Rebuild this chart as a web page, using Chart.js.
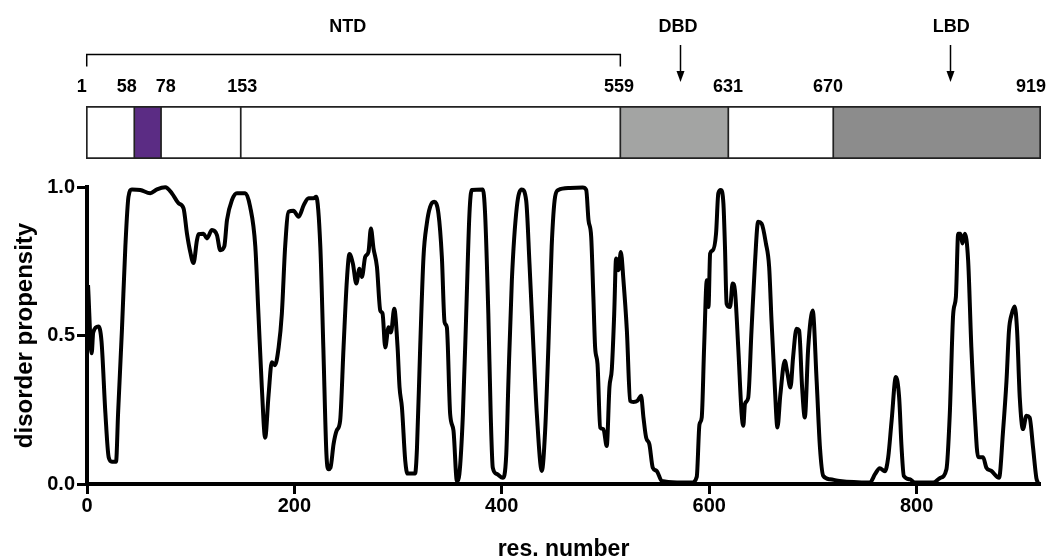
<!DOCTYPE html>
<html><head><meta charset="utf-8">
<script src="https://cdn.jsdelivr.net/npm/chart.js@4"></script>
<style>
html,body{margin:0;padding:0;background:#fff;overflow:hidden}
#wrap{position:relative;width:1058px;height:556px}
#plot,#domains{position:absolute;left:0;top:0}
</style></head><body>
<div id="wrap">
<canvas id="plot" width="1058" height="556"></canvas>
<canvas id="domains" width="1058" height="175"></canvas>
</div>
<script>
const FONT = "'Liberation Sans', Arial, Helvetica, sans-serif";

// disorder profile: residue number and propensity
const residues = [
 1,4.5,6,11,14,17.7,20.9,24,28,30,
 33.7,37,40,43.3,51.4,61,67.5,75.5,81.8,88.3,
 93.1,96.4,99.6,102.7,106,107.6,112.4,115.6,120.5,125.3,
 128.5,132.4,135,139.8,144.6,152.6,157.3,162.3,165.3,168.6,
 171.8,175.1,178.2,181.2,184.8,187.9,191.1,194.4,199.1,204.1,
 209,213.7,218.5,221,225,227.9,230.9,232.9,234.8,237.8,
 240.8,244.1,247.4,250.6,253.1,256.4,259.7,262.7,265.1,268.3,
 271.4,273.8,276.3,279.6,282.8,285,287.6,290.8,293.1,296.3,
 299.5,301.4,303.7,306.9,309.1,316.4,318.2,321.3,324.5,327.7,
 330.9,334.8,338.9,342.2,344.8,347,350.2,353.4,356.7,359.1,
 362.5,365.7,368.8,371,381.7,383.9,387,389.3,391.3,395.1,
 400.9,404.3,406.4,409.7,414.5,419.2,423.5,426.7,430.5,433.8,
 438.6,441.8,444.9,448.1,451.4,454.5,465.9,478,481.4,483.6,
 486.2,488.3,490,492.3,494.9,498,501.2,503.8,506.1,508.4,
 510.2,512.5,514.8,517.3,520.6,523.8,527,530.8,534.3,536.6,
 539.2,542.3,545.6,549.4,554.3,569,583.3,588,590.6,592.8,
 595.1,597.7,599.3,600.9,603.5,606.6,608.8,611.1,613.7,615.2,
 616.8,620.1,622.6,624.8,628,631.3,632.9,634.5,637.6,640.8,
 644.1,647.2,650.5,654.7,657.8,660.1,663.3,665.8,668.6,672.9,
 675.1,678.4,680.9,684.2,686.7,689.6,692.2,695.5,699.8,703.6,
 706.8,710,716.4,725.9,755,759.9,764.5,769.4,772.6,775.9,
 780,783.2,785.5,787.7,793.5,798.2,816,822.5,828.8,832,
 835.3,837.9,840.1,842.3,844.2,846.5,849.7,852.8,856.1,859.3,
 864.1,867.3,872.1,879.5,883.4,886.7,889.1,891.8,894.6,896.9,
 899.5,902.6,905.9,909,912.3,915.5,917
];
const disorder = [
 0.67,0.44,0.51,0.53,0.48,0.24,0.09,0.075,0.075,0.24,
 0.52,0.80,0.967,0.992,0.99,0.979,0.992,0.999,0.979,0.945,
 0.928,0.843,0.781,0.744,0.82,0.841,0.843,0.827,0.855,0.838,
 0.787,0.80,0.889,0.956,0.979,0.979,0.934,0.80,0.574,0.325,
 0.156,0.30,0.41,0.40,0.46,0.574,0.80,0.917,0.92,0.90,
 0.939,0.962,0.962,0.967,0.80,0.46,0.10,0.05,0.055,0.135,
 0.18,0.213,0.46,0.686,0.774,0.742,0.675,0.725,0.697,0.765,
 0.781,0.86,0.793,0.731,0.584,0.574,0.46,0.528,0.51,0.59,
 0.46,0.325,0.258,0.078,0.035,0.035,0.12,0.46,0.765,0.877,
 0.933,0.95,0.911,0.765,0.545,0.528,0.235,0.18,0.01,0.034,
 0.235,0.574,0.91,0.99,0.992,0.91,0.574,0.235,0.055,0.034,
 0.021,0.10,0.348,0.686,0.933,0.992,0.955,0.742,0.46,0.235,
 0.044,0.18,0.46,0.80,0.967,0.99,0.997,0.998,0.99,0.889,
 0.832,0.63,0.46,0.404,0.19,0.185,0.128,0.325,0.387,0.573,
 0.759,0.72,0.781,0.686,0.517,0.28,0.276,0.28,0.297,0.224,
 0.156,0.134,0.055,0.044,0.01,0.005,0.005,0.024,0.2,0.224,
 0.46,0.686,0.596,0.776,0.787,0.843,0.979,0.99,0.945,0.80,
 0.607,0.596,0.675,0.652,0.46,0.235,0.196,0.27,0.29,0.517,
 0.742,0.883,0.877,0.81,0.731,0.55,0.325,0.19,0.30,0.415,
 0.38,0.325,0.427,0.523,0.517,0.325,0.224,0.46,0.584,0.348,
 0.123,0.027,0.016,0.01,0.005,0.033,0.053,0.043,0.089,0.213,
 0.36,0.29,0.123,0.027,0.016,0.005,0.005,0.02,0.05,0.235,
 0.573,0.63,0.843,0.843,0.81,0.843,0.753,0.46,0.235,0.091,
 0.09,0.055,0.044,0.021,0.18,0.348,0.517,0.573,0.598,0.517,
 0.29,0.185,0.23,0.224,0.123,0.02,0.005
];
const xTicks = [0, 200, 400, 600, 800];
const yTicks = [0, 0.5, 1];

// schematic domain map (positions in schematic units along the same 0-919 span)
const domainStart = [0, 46.5, 72.2, 148.9, 514.2, 618.1, 719.1];
const domainEnd   = [46.5, 72.2, 148.9, 514.2, 618.1, 719.1, 919];
const domainColors = ['#ffffff', '#5b2c84', '#ffffff', '#ffffff', '#a3a4a3', '#ffffff', '#8c8c8c'];
const boundaryLabels = ['1', '58', '78', '153', '559', '631', '670', '919'];
const boundaryLabelPos = [-4.1, 39.2, 76.7, 150.4, 512.9, 617.8, 714, 909.3];
const regionNames = ['NTD', 'DBD', 'LBD'];
const regionNamePos = [251.8, 569.7, 832.7];
const arrowPos = [571.3, 831.1];
const bracketRange = [0.7, 514.2];

new Chart(document.getElementById('plot'), {
  type: 'scatter',
  data: {
    datasets: [{
      data: residues.map((r, i) => ({ x: r, y: disorder[i] })),
      showLine: true,
      borderColor: '#000',
      borderWidth: 4,
      pointRadius: 0,
      cubicInterpolationMode: 'monotone',
      fill: false,
      clip: false
    }]
  },
  options: {
    responsive: false,
    animation: false,
    layout: { padding: { top: 187, right: 18, bottom: -5, left: 0 } },
    plugins: { legend: { display: false }, tooltip: { enabled: false } },
    scales: {
      x: {
        type: 'linear', min: 0, max: 919,
        afterBuildTicks: s => { s.ticks = xTicks.map(v => ({ value: v })); },
        grid: { drawOnChartArea: false, drawTicks: true, tickLength: 10, tickWidth: 3, tickColor: '#000' },
        border: { display: true, color: '#000', width: 4 },
        ticks: { color: '#000', font: { family: FONT, size: 20, weight: 'bold', lineHeight: 1 }, padding: 2, maxRotation: 0, callback: v => String(v) },
        title: { display: true, text: 'res. number', color: '#000', font: { family: FONT, size: 23, weight: 'bold', lineHeight: 1 }, padding: { top: 20, bottom: 0 } }
      },
      y: {
        type: 'linear', min: 0, max: 1,
        afterBuildTicks: s => { s.ticks = yTicks.map(v => ({ value: v })); },
        afterFit: s => { s.width = 87; },
        grid: { drawOnChartArea: false, drawTicks: true, tickLength: 10, tickWidth: 3, tickColor: '#000' },
        border: { display: true, color: '#000', width: 4 },
        ticks: { color: '#000', font: { family: FONT, size: 20, weight: 'bold', lineHeight: 1 }, padding: 2, callback: v => Number(v).toFixed(1) },
        title: { display: true, text: 'disorder propensity', color: '#000', font: { family: FONT, size: 24, weight: 'bold', lineHeight: 1 }, padding: { top: 13, bottom: 0 } }
      }
    }
  }
});

const diagramLabels = {
  id: 'diagramLabels',
  afterDatasetsDraw(chart) {
    const ctx = chart.ctx, x = chart.scales.x;
    ctx.save();
    ctx.fillStyle = '#000';
    ctx.strokeStyle = '#000';
    ctx.textAlign = 'center';
    ctx.textBaseline = 'middle';
    ctx.font = 'bold 18px ' + FONT;
    boundaryLabels.forEach((t, i) => ctx.fillText(t, x.getPixelForValue(boundaryLabelPos[i]), 87));
    regionNames.forEach((t, i) => ctx.fillText(t, x.getPixelForValue(regionNamePos[i]), 27));
    // bracket over NTD
    const b0 = x.getPixelForValue(bracketRange[0]), b1 = x.getPixelForValue(bracketRange[1]);
    ctx.lineWidth = 1.5;
    ctx.beginPath();
    ctx.moveTo(b0, 66.5); ctx.lineTo(b0, 54.5); ctx.lineTo(b1, 54.5); ctx.lineTo(b1, 66.5);
    ctx.stroke();
    // arrows for DBD / LBD
    arrowPos.forEach(p => {
      const px = Math.round(x.getPixelForValue(p)) + 0.5;
      ctx.lineWidth = 1.5;
      ctx.beginPath(); ctx.moveTo(px, 45); ctx.lineTo(px, 74); ctx.stroke();
      ctx.beginPath(); ctx.moveTo(px - 4, 71); ctx.lineTo(px + 4, 71); ctx.lineTo(px, 82); ctx.closePath(); ctx.fill();
    });
    ctx.restore();
  }
};

new Chart(document.getElementById('domains'), {
  type: 'bar',
  data: {
    labels: ['AR'],
    datasets: domainStart.map((s, i) => ({
      data: [[s, domainEnd[i]]],
      backgroundColor: domainColors[i],
      borderColor: '#222',
      borderWidth: { top: 2, bottom: 2, left: i === 0 ? 2 : 1.2, right: i === domainStart.length - 1 ? 2 : 1.2 },
      borderSkipped: false,
      grouped: false,
      barPercentage: 1,
      categoryPercentage: 1
    }))
  },
  options: {
    indexAxis: 'y',
    responsive: false,
    animation: false,
    layout: { padding: { left: 86, right: 17, top: 106, bottom: 16 } },
    plugins: { legend: { display: false }, tooltip: { enabled: false } },
    scales: {
      x: { type: 'linear', display: false, min: 0, max: 919 },
      y: { display: false }
    }
  },
  plugins: [diagramLabels]
});
</script>
</body></html>
